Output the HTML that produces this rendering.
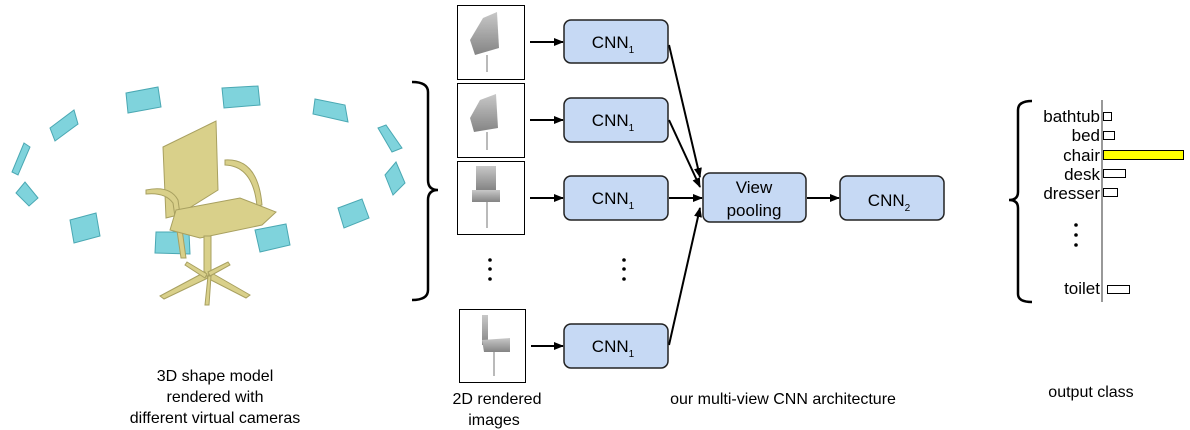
<!DOCTYPE html>
<html><head><meta charset="utf-8"><style>
body{margin:0;background:#fff;width:1190px;height:430px;overflow:hidden}
svg{display:block}
text{font-family:"Liberation Sans",Arial,sans-serif}
</style></head><body>
<svg width="1190" height="430" viewBox="0 0 1190 430" xmlns="http://www.w3.org/2000/svg">
<defs>
<marker id="a" markerWidth="10" markerHeight="8" refX="9" refY="4" orient="auto" markerUnits="userSpaceOnUse"><path d="M0,0L10,4L0,8z" fill="#000"/></marker>
<linearGradient id="g" x1="0" y1="0" x2="0" y2="1"><stop offset="0" stop-color="#bbb"/><stop offset="1" stop-color="#666"/></linearGradient>
</defs>
<!-- cameras -->
<g fill="#7fd3dc" stroke="#4aa8b3" stroke-width="1">
<polygon points="126,93 158,87 161,107 128,113"/>
<polygon points="222,88 258,86 260,105 224,108"/>
<polygon points="315,99 345,105 348,122 313,114"/>
<polygon points="50,128 74,110 78,124 55,141"/>
<polygon points="378,128 386,125 402,148 392,152"/>
<polygon points="12,172 24,143 30,147 18,175"/>
<polygon points="385,175 396,162 405,183 393,195"/>
<polygon points="16,193 25,182 38,198 29,206"/>
<polygon points="338,208 362,199 369,218 344,228"/>
<polygon points="70,220 96,213 100,236 74,243"/>
<polygon points="156,232 189,232 190,254 155,253"/>
<polygon points="255,230 286,224 290,245 260,252"/>
</g>
<!-- chair -->
<g fill="#d9d08a" stroke="#a8a060" stroke-width="1">
<polygon points="163,147 210,124 216,121 218,190 178,215 166,218"/>
<path d="M146,190 Q170,185 178,200 L186,258 L181,258 L173,203 Q165,192 146,194z"/>
<path d="M225,160 Q258,158 262,205 L257,206 Q253,166 225,165z"/>
<polygon points="176,210 240,198 276,212 262,225 200,238 170,230"/>
<rect x="204" y="236" width="7" height="40"/>
<polygon points="205,272 160,296 164,299 208,278"/>
<polygon points="210,272 250,295 246,298 207,278"/>
<polygon points="208,272 228,262 230,265 210,276"/>
<polygon points="207,274 187,262 185,265 205,278"/>
<polygon points="208,276 205,305 209,305 211,276"/>
</g>
<!-- left brace -->
<path d="M412,82 Q428,82 428,92 L428,180 Q428,190 438,190 Q428,190 428,200 L428,290 Q428,300 412,300" fill="none" stroke="#000" stroke-width="2.5"/>
<!-- images -->
<g fill="#fff" stroke="#000" stroke-width="1">
<rect x="457.5" y="5.5" width="67" height="74"/>
<rect x="457.5" y="83.5" width="67" height="74"/>
<rect x="457.5" y="161.5" width="67" height="73"/>
<rect x="459.5" y="309.5" width="66" height="73"/>
</g>
<g fill="url(#g)" opacity="0.8">
<polygon points="483,18 497,12 499,48 475,55 470,40"/><line x1="487" y1="55" x2="487" y2="72" stroke="#aaa" stroke-width="2"/>
<polygon points="480,100 496,94 498,128 474,132 470,118"/><line x1="487" y1="132" x2="487" y2="150" stroke="#aaa" stroke-width="2"/>
<rect x="476" y="166" width="20" height="24"/><rect x="472" y="190" width="28" height="12"/><line x1="487" y1="202" x2="487" y2="228" stroke="#aaa" stroke-width="2"/>
<rect x="482" y="315" width="6" height="30"/><polygon points="482,340 510,338 510,352 484,352"/><line x1="494" y1="352" x2="494" y2="376" stroke="#aaa" stroke-width="2"/>
</g>
<g stroke="#000" stroke-width="2" marker-end="url(#a)">
<line x1="530" y1="42" x2="563" y2="42"/>
<line x1="530" y1="120" x2="563" y2="120"/>
<line x1="530" y1="198" x2="563" y2="198"/>
<line x1="531" y1="346" x2="563" y2="346"/>
<line x1="669" y1="45" x2="700" y2="177"/>
<line x1="669" y1="120" x2="700" y2="187"/>
<line x1="669" y1="198" x2="702" y2="198"/>
<line x1="669" y1="345" x2="700" y2="208"/>
<line x1="807" y1="198" x2="839" y2="198"/>
</g>
<g fill="#c6d9f4" stroke="#222" stroke-width="1.5">
<rect x="564" y="20" width="104" height="43" rx="7"/>
<rect x="564" y="98" width="104" height="44" rx="7"/>
<rect x="564" y="176" width="104" height="44" rx="7"/>
<rect x="564" y="324" width="104" height="44" rx="7"/>
<rect x="703" y="173" width="103" height="49" rx="7"/>
<rect x="840" y="176" width="104" height="44" rx="7"/>
</g>
<g font-size="17" text-anchor="middle" fill="#000">
<text x="613" y="48">CNN<tspan font-size="10" dy="5">1</tspan></text>
<text x="613" y="126">CNN<tspan font-size="10" dy="5">1</tspan></text>
<text x="613" y="204">CNN<tspan font-size="10" dy="5">1</tspan></text>
<text x="613" y="352">CNN<tspan font-size="10" dy="5">1</tspan></text>
<text x="754" y="193">View</text>
<text x="754" y="216">pooling</text>
<text x="889" y="206">CNN<tspan font-size="10" dy="5">2</tspan></text>
</g>
<g fill="#000"><circle cx="490" cy="260" r="1.8"/><circle cx="490" cy="269" r="1.8"/><circle cx="490" cy="279" r="1.8"/>
<circle cx="624" cy="260" r="1.8"/><circle cx="624" cy="269" r="1.8"/><circle cx="624" cy="279" r="1.8"/>
<circle cx="1076" cy="225" r="1.8"/><circle cx="1076" cy="235" r="1.8"/><circle cx="1076" cy="245" r="1.8"/></g>
<!-- right brace -->
<path d="M1032,101 Q1018,101 1018,110 L1018,192 Q1018,200 1009,200 Q1018,200 1018,208 L1018,294 Q1018,302 1032,302" fill="none" stroke="#000" stroke-width="2.5"/>
<line x1="1102" y1="100" x2="1102" y2="302" stroke="#555" stroke-width="1.2"/>
<g font-size="17" text-anchor="end" fill="#000">
<text x="1100" y="122">bathtub</text><text x="1100" y="141">bed</text><text x="1100" y="161">chair</text>
<text x="1100" y="180">desk</text><text x="1100" y="199">dresser</text><text x="1100" y="294">toilet</text>
</g>
<g stroke="#000" stroke-width="1" fill="#fff">
<rect x="1103.5" y="112.5" width="8" height="8"/><rect x="1103.5" y="131.5" width="11" height="8"/>
<rect x="1103.5" y="150.5" width="80" height="9" fill="#ffff00"/>
<rect x="1103.5" y="169.5" width="22" height="8"/><rect x="1103.5" y="188.5" width="14" height="8"/>
<rect x="1107.5" y="285.5" width="22" height="8"/>
</g>
<g font-size="16" text-anchor="middle" fill="#000">
<text x="215" y="381">3D shape model</text><text x="215" y="402">rendered with</text><text x="215" y="423">different virtual cameras</text>
<text x="497" y="404">2D rendered</text><text x="494" y="425">images</text>
<text x="783" y="404">our multi-view CNN architecture</text>
<text x="1091" y="397">output class</text>
</g>
</svg>
</body></html>
